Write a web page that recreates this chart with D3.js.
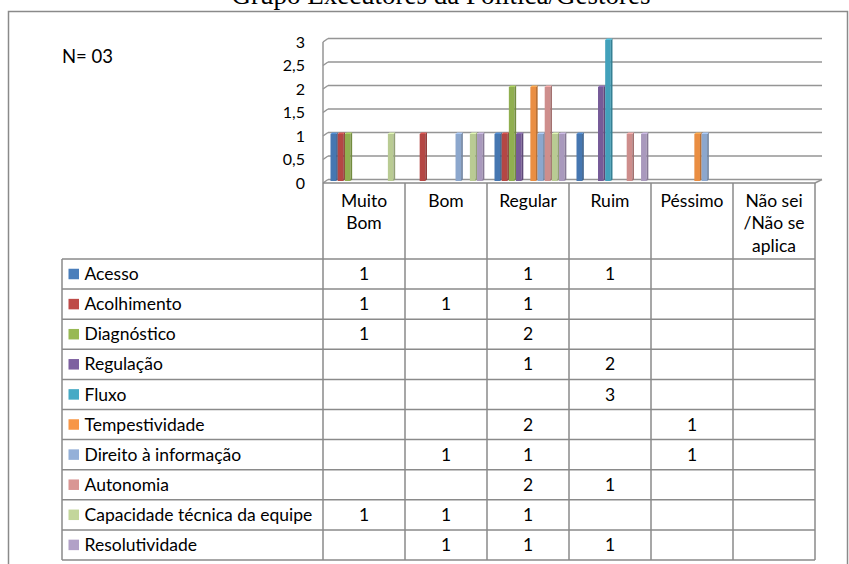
<!DOCTYPE html>
<html><head><meta charset="utf-8">
<script src="https://cdn.jsdelivr.net/npm/d3@7"></script>
<style>html,body{margin:0;padding:0;background:#fff;overflow:hidden}</style>
</head><body>
<svg id="chart" width="849" height="564"></svg>
<script>
const title = "Grupo Executores da Política/Gestores";
const nLabel = "N= 03";
const categories = ["Muito Bom", "Bom", "Regular", "Ruim", "Péssimo", "Não sei /Não se aplica"];
const headerLines = [["Muito", "Bom"], ["Bom"], ["Regular"], ["Ruim"], ["Péssimo"], ["Não sei", "/Não se", "aplica"]];
const seriesNames = ["Acesso", "Acolhimento", "Diagnóstico", "Regulação", "Fluxo", "Tempestividade", "Direito à informação", "Autonomia", "Capacidade técnica da equipe", "Resolutividade"];
const seriesColors = ["#4A7EBB", "#BE4B48", "#98B954", "#7D60A0", "#46AAC5", "#F79646", "#94B0D8", "#D99694", "#C3D69B", "#B2A1C7"];
const acesso = [1, null, 1, 1, null, null];
const acolhimento = [1, 1, 1, null, null, null];
const diagnostico = [1, null, 2, null, null, null];
const regulacao = [null, null, 1, 2, null, null];
const fluxo = [null, null, null, 3, null, null];
const tempestividade = [null, null, 2, null, 1, null];
const direito = [null, 1, 1, null, 1, null];
const autonomia = [null, null, 2, 1, null, null];
const capacidade = [1, 1, 1, null, null, null];
const resolutividade = [null, 1, 1, 1, null, null];
const seriesValues = [acesso, acolhimento, diagnostico, regulacao, fluxo, tempestividade, direito, autonomia, capacidade, resolutividade];
const yTicks = [0, 0.5, 1, 1.5, 2, 2.5, 3];
const yTickLabels = ["0", "0,5", "1", "1,5", "2", "2,5", "3"];

const svg = d3.select("#chart");
const FONT = "Lato, 'Noto Sans', sans-serif";
const lineCol = "#8a8a8a";

// title (cut at the top edge, as in the reference)
svg.append("text").attr("x", 441).attr("y", 4).attr("text-anchor", "middle")
  .attr("font-family", "'Liberation Serif', 'Times New Roman', serif").attr("font-size", 27)
  .attr("fill", "#000").text(title);

// outer frame
svg.append("path").attr("d", "M8.5,570 V11.5 H847.5 V570").attr("fill", "none")
  .attr("stroke", lineCol).attr("stroke-width", 1.5);

svg.append("text").attr("x", 62).attr("y", 62.5).attr("font-family", FONT).attr("font-size", 18.5)
  .attr("fill", "#000").text(nLabel);

// scales
const x = d3.scaleBand().domain(categories).range([323, 815]).padding(0);
const xs = d3.scaleBand().domain(seriesNames).range([7.5, 78.5]).paddingInner(0.1).paddingOuter(0);
const yBack = d3.scaleLinear().domain([0, 3]).range([179.5, 38.5]);
const yBar = d3.scaleLinear().domain([0, 3]).range([181, 40]);
const dx = 5, dy = 3.5;
const xLeftFront = x.range()[0], xRightFront = x.range()[1];

// gridlines (back wall) + left wall diagonals
yTicks.forEach((t, i) => {
  const yb = yBack(t);
  svg.append("line").attr("x1", xLeftFront + dx).attr("x2", xRightFront + dx + 2)
    .attr("y1", yb).attr("y2", yb).attr("stroke", "#959595").attr("stroke-width", 1.5);
  svg.append("line").attr("x1", xLeftFront).attr("y1", yb + dy).attr("x2", xLeftFront + dx).attr("y2", yb)
    .attr("stroke", "#959595").attr("stroke-width", 1.5);
  svg.append("text").attr("x", 305).attr("y", yb + dy).attr("dy", "0.35em").attr("text-anchor", "end")
    .attr("font-family", FONT).attr("font-size", 16).attr("fill", "#000").text(yTickLabels[i]);
});
// left wall vertical
svg.append("line").attr("x1", xLeftFront).attr("x2", xLeftFront).attr("y1", yBack(3) + dy).attr("y2", 183)
  .attr("stroke", "#959595").attr("stroke-width", 1.5);
// floor right diagonal
svg.append("line").attr("x1", xRightFront).attr("y1", 183).attr("x2", xRightFront + dx + 2).attr("y2", yBack(0))
  .attr("stroke", "#959595").attr("stroke-width", 1.5);

// bars
const sd = 1.7, sh = 1.4;
const barG = svg.append("g");
seriesNames.forEach((s, si) => {
  const col = d3.color(seriesColors[si]);
  categories.forEach((c, ci) => {
    const v = seriesValues[si][ci];
    if (v == null) return;
    const bx = x(c) + xs(s), bw = xs.bandwidth() - sd * 0.5;
    const top = yBar(v), bot = yBar(0);
    barG.append("rect").attr("x", bx).attr("y", top).attr("width", bw).attr("height", bot - top)
      .attr("fill", col.darker(0.15).formatHex());
    barG.append("path").attr("d", `M${bx + bw},${top} L${bx + bw + sd},${top - sh} L${bx + bw + sd},${bot - sh} L${bx + bw},${bot} Z`)
      .attr("fill", col.darker(0.8).formatHex());
    barG.append("path").attr("d", `M${bx},${top} L${bx + sd},${top - sh} L${bx + bw + sd},${top - sh} L${bx + bw},${top} Z`)
      .attr("fill", col.brighter(0.4).formatHex());
  });
});

// data table
const headerTop = 183, headerBottom = 259, tableBottom = 560, legendLeft = 62;
const rowY = d3.scaleBand().domain(seriesNames).range([headerBottom, tableBottom]).padding(0);
const tg = svg.append("g");
tg.append("line").attr("x1", xLeftFront).attr("x2", xRightFront).attr("y1", headerTop).attr("y2", headerTop)
  .attr("stroke", lineCol).attr("stroke-width", 1.5);
seriesNames.forEach(s => {
  tg.append("line").attr("x1", legendLeft).attr("x2", xRightFront).attr("y1", rowY(s)).attr("y2", rowY(s))
    .attr("stroke", lineCol).attr("stroke-width", 1.5);
});
tg.append("line").attr("x1", legendLeft).attr("x2", xRightFront).attr("y1", tableBottom).attr("y2", tableBottom)
  .attr("stroke", lineCol).attr("stroke-width", 1.5);
tg.append("line").attr("x1", legendLeft).attr("x2", legendLeft).attr("y1", headerBottom).attr("y2", tableBottom)
  .attr("stroke", lineCol).attr("stroke-width", 1.5);
categories.concat(["__end"]).forEach((c, i) => {
  const xx = i < categories.length ? x(c) : xRightFront;
  tg.append("line").attr("x1", xx).attr("x2", xx).attr("y1", headerTop).attr("y2", tableBottom)
    .attr("stroke", lineCol).attr("stroke-width", 1.5);
});
categories.forEach((c, ci) => {
  headerLines[ci].forEach((ln, li) => {
    tg.append("text").attr("x", x(c) + x.bandwidth() / 2).attr("y", 206.5 + li * 22.8)
      .attr("text-anchor", "middle").attr("font-family", FONT).attr("font-size", 17.5).attr("fill", "#000").text(ln);
  });
});
seriesNames.forEach((s, si) => {
  const cy = rowY(s) + rowY.bandwidth() / 2;
  tg.append("rect").attr("x", 68.5).attr("y", cy - 5.3).attr("width", 10.5).attr("height", 10.5)
    .attr("fill", seriesColors[si]);
  tg.append("text").attr("x", 84.5).attr("y", cy).attr("dy", "0.35em").attr("font-family", FONT)
    .attr("font-size", 17.5).attr("fill", "#000").text(s);
  categories.forEach((c, ci) => {
    const v = seriesValues[si][ci];
    if (v == null) return;
    tg.append("text").attr("x", x(c) + x.bandwidth() / 2).attr("y", cy).attr("dy", "0.35em")
      .attr("text-anchor", "middle").attr("font-family", FONT).attr("font-size", 17.5).attr("fill", "#000").text(v);
  });
});
</script>
</body></html>
